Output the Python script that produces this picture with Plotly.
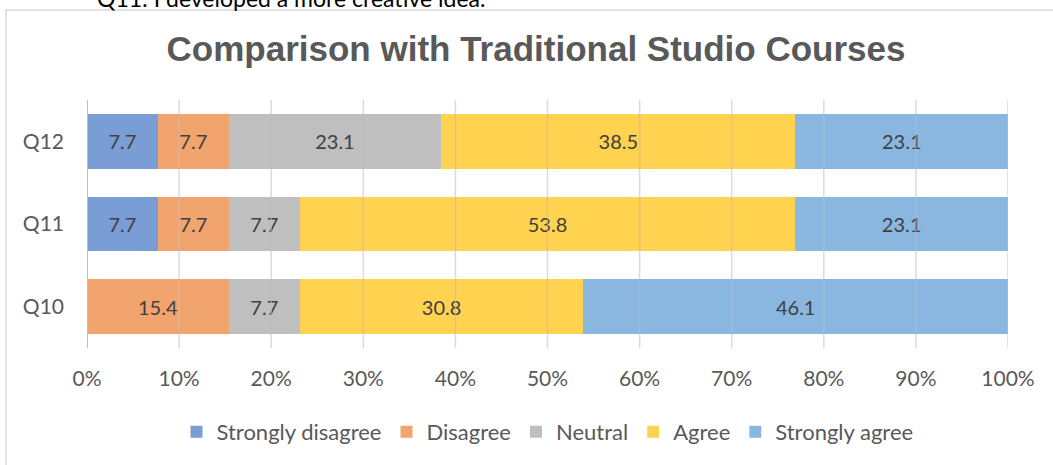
import plotly.graph_objects as go

categories = ["Q10", "Q11", "Q12"]
series_names = ["Strongly disagree", "Disagree", "Neutral", "Agree", "Strongly agree"]
strongly_disagree = [0, 7.7, 7.7]
disagree = [15.4, 7.7, 7.7]
neutral = [7.7, 7.7, 23.1]
agree = [30.8, 53.8, 38.5]
strongly_agree = [46.1, 23.1, 23.1]
x_ticks = [0, 10, 20, 30, 40, 50, 60, 70, 80, 90, 100]
tick_labels = [f"{t}%" for t in x_ticks]

colors = ["#7A9DD5", "#F1A46E", "#BFBFBF", "#FFD24F", "#8AB7E0"]
values = [strongly_disagree, disagree, neutral, agree, strongly_agree]

W, H = 1053, 465
L, R, T, B = 87, 45, 100, 117
pw, ph = W - L - R, H - T - B

def px_x(p):
    return (p - L) / pw

def px_y(p):
    return (H - B - p) / ph

fig = go.Figure()
for name, vals, col in zip(series_names, values, colors):
    fig.add_trace(go.Bar(
        y=categories, x=vals, name=name, orientation="h",
        marker=dict(color=col, line=dict(width=0)),
        text=[f"{v}" if v > 0 else "" for v in vals],
        textposition="inside", insidetextanchor="middle",
        textfont=dict(family="Lato", size=20, color="#404040"),
        hoverinfo="x+y+name",
    ))

shapes = []
# chart border
shapes.append(dict(type="rect", xref="paper", yref="paper",
                   x0=px_x(6), x1=px_x(1065), y0=px_y(480), y1=px_y(10),
                   line=dict(color="#D9D9D9", width=1.5), fillcolor="rgba(0,0,0,0)", layer="below"))
# gridlines above bars
for t in x_ticks[1:]:
    shapes.append(dict(type="line", xref="x", yref="paper", x0=t, x1=t, y0=0, y1=1,
                       line=dict(color="rgba(190,190,190,0.55)", width=1.5), layer="above"))
shapes.append(dict(type="line", xref="x", yref="paper", x0=0, x1=0, y0=0, y1=1,
                   line=dict(color="#BFBFBF", width=2), layer="above"))

fig.update_layout(
    width=W, height=H,
    margin=dict(l=L, r=R, t=T, b=B),
    barmode="stack", barnorm="percent", bargap=0.34,
    paper_bgcolor="white", plot_bgcolor="white",
    title=dict(text="<b>Comparison with Traditional Studio Courses</b>",
               x=536 / W, xanchor="center",
               y=1 - 49 / H, yanchor="middle",
               font=dict(family="Liberation Sans", size=35, color="#595959")),
    xaxis=dict(range=[0, 100], tickvals=x_ticks, ticktext=tick_labels, showgrid=False,
               zeroline=False, showline=False, ticks="", ticklabelstandoff=16,
               tickfont=dict(family="Lato", size=21, color="#595959")),
    yaxis=dict(categoryorder="array", categoryarray=categories, showgrid=False,
               ticks="", showline=False, ticklabelstandoff=22,
               tickfont=dict(family="Lato", size=21, color="#595959")),
    legend=dict(orientation="h", x=0.5, xanchor="center", y=px_y(432), yanchor="middle",
                font=dict(family="Lato", size=22, color="#595959"),
                traceorder="normal", itemwidth=30, tracegroupgap=0),
    shapes=shapes,
    annotations=[dict(text="Q11: I developed a more creative idea.", xref="paper", yref="paper",
                      x=px_x(95), xanchor="left", y=px_y(-2), yanchor="middle", showarrow=False,
                      font=dict(family="Lato", size=23, color="#000000"))],
)

fig.write_html("out.html", config={"displayModeBar": False},
               post_script="document.body.style.margin='0';document.body.style.overflow='hidden';")
